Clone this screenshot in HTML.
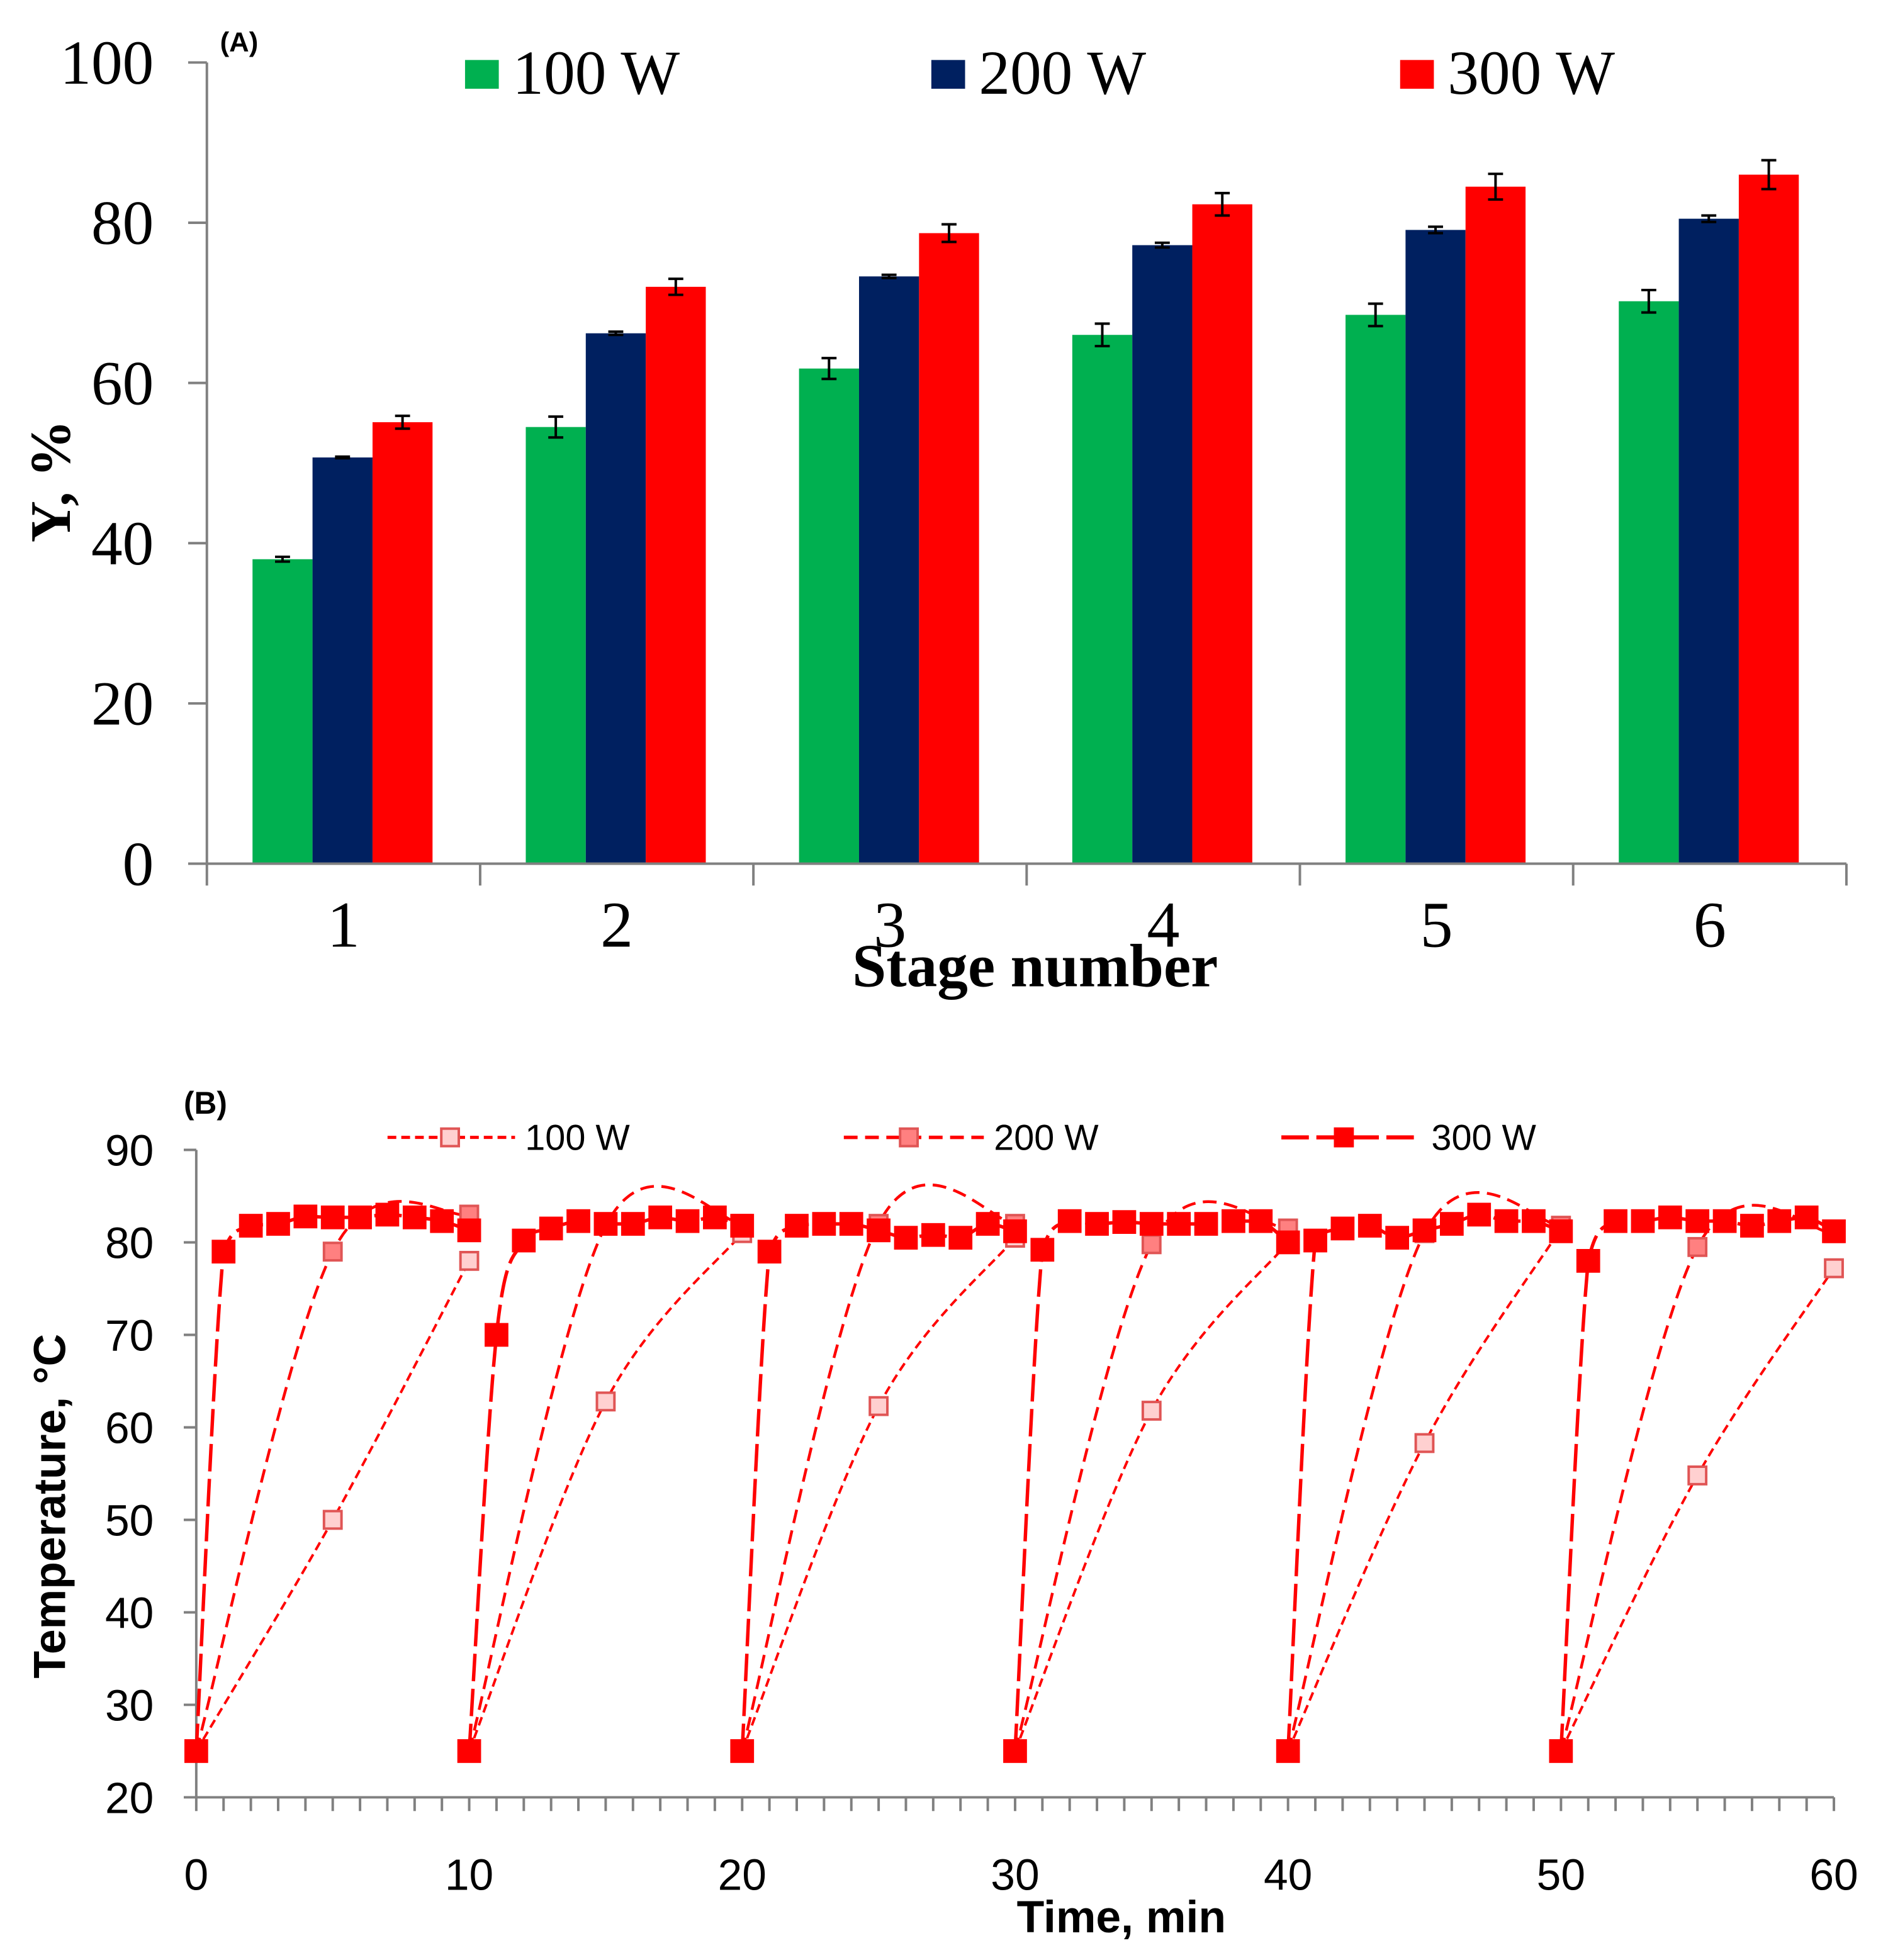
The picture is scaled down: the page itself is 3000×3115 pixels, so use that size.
<!DOCTYPE html>
<html>
<head>
<meta charset="utf-8">
<style>
html,body{margin:0;padding:0;background:#fff;}
svg{display:block;}
</style>
</head>
<body>
<svg id="chart" width="3000" height="3115" viewBox="0 0 3000 3115" xmlns="http://www.w3.org/2000/svg">
<g transform="scale(0.9932)">
<g id="panelA"></g>
<g id="panelB"></g>
</g>
</svg>
<script>
// ---------- Panel A data ----------
const stages = ["1","2","3","4","5","6"];
const seriesNamesA = ["100 W","200 W","300 W"];
const yield100 = [38, 54.5, 61.8, 66, 68.5, 70.2];
const yield200 = [50.7, 66.2, 73.3, 77.2, 79.1, 80.5];
const yield300 = [55.1, 72, 78.7, 82.3, 84.5, 86];
const err100 = [0.3, 1.3, 1.3, 1.4, 1.4, 1.4];
const err200 = [0.1, 0.2, 0.2, 0.3, 0.4, 0.4];
const err300 = [0.8, 1.0, 1.1, 1.4, 1.6, 1.8];
const yTicksA = [0, 20, 40, 60, 80, 100];

// ---------- Panel B data ----------
const xTicksB = [0, 10, 20, 30, 40, 50, 60];
const yTicksB = [20, 30, 40, 50, 60, 70, 80, 90];
const seriesNamesB = ["100 W","200 W","300 W"];
const time100 = [[0,5,10],[10,15,20],[20,25,30],[30,35,40],[40,45,50],[50,55,60]];
const temp100 = [[25,50,78],[25,62.8,81],[25,62.3,80.5],[25,61.8,80],[25,58.3,81.5],[25,54.8,77.2]];
const time200 = [[0,5,10],[10,15,20],[20,25,30],[30,35,40],[40,45,50],[50,55,60]];
const temp200 = [[25,79,83],[25,81.8,82],[25,82,82],[25,79.8,81.5],[25,81,81.8],[25,79.5,81]];
const time300 = [
 [0,1,2,3,4,5,6,7,8,9,10],
 [10,11,12,13,14,15,16,17,18,19,20],
 [20,21,22,23,24,25,26,27,28,29,30],
 [30,31,32,33,34,35,36,37,38,39,40],
 [40,41,42,43,44,45,46,47,48,49,50],
 [50,51,52,53,54,55,56,57,58,59,60]];
const temp300 = [
 [25,79,81.8,82,82.8,82.7,82.7,83,82.7,82.3,81.3],
 [25,70,80.2,81.5,82.3,82,82,82.7,82.3,82.7,81.8],
 [25,79,81.8,82,82,81.3,80.5,80.8,80.5,82,81.2],
 [25,79.2,82.3,82,82.2,82,82,82,82.3,82.3,80],
 [25,80.2,81.5,81.8,80.5,81.3,82,83,82.3,82.3,81.2],
 [25,78,82.3,82.3,82.7,82.3,82.3,81.8,82.3,82.7,81.2]];

const NS = "http://www.w3.org/2000/svg";
function mk(tag, attrs, parent){
  const e = document.createElementNS(NS, tag);
  for (const k in attrs) e.setAttribute(k, attrs[k]);
  parent.appendChild(e);
  return e;
}

// ================= Panel A =================
const A = document.getElementById('panelA');
const axL = 331, axR = 2954, y0A = 1382, y100A = 100;
const yA = v => y0A - (v/100)*(y0A - y100A);
const catW = (axR - axL)/stages.length;
const barW = 96, groupOff = 73;
const colorsA = ["#00b050","#002060","#ff0000"];
const valsA = [yield100, yield200, yield300];
const errsA = [err100, err200, err300];

for (let s=0; s<3; s++){
  for (let i=0; i<stages.length; i++){
    const x = axL + i*catW + groupOff + s*barW;
    const r = mk('rect', {x:x, y:yA(valsA[s][i]), width:barW, height:y0A - yA(valsA[s][i]), fill:colorsA[s]}, A);
    
    
  }
}
for (let s=0; s<3; s++){
  for (let i=0; i<stages.length; i++){
    const cx = axL + i*catW + groupOff + s*barW + barW/2;
    const v = valsA[s][i], e = errsA[s][i];
    const g = mk('g', {stroke:'#000','stroke-width':4}, A);
    
    
    mk('line', {x1:cx, x2:cx, y1:yA(v+e), y2:yA(v-e)}, g);
    mk('line', {x1:cx-12, x2:cx+12, y1:yA(v+e), y2:yA(v+e)}, g);
    mk('line', {x1:cx-12, x2:cx+12, y1:yA(v-e), y2:yA(v-e)}, g);
  }
}
const axA = mk('g', {stroke:'#808080','stroke-width':4, fill:'none'}, A);


mk('line', {x1:axL, x2:axL, y1:y100A, y2:y0A}, axA);
mk('line', {x1:axL, x2:axR, y1:y0A, y2:y0A}, axA);
yTicksA.forEach(v => { mk('line', {x1:axL-30, x2:axL, y1:yA(v), y2:yA(v)}, axA); });
for (let i=0;i<=stages.length;i++){ const x=axL+i*catW; mk('line',{x1:x,x2:x,y1:y0A,y2:y0A+35},axA); }
yTicksA.forEach(v => {
  const t = mk('text', {x:246, y:yA(v)+34, 'text-anchor':'end', 'font-family':'Liberation Serif, serif', 'font-size':100, fill:'#000'}, A);
  t.textContent = v;
  
  
});
stages.forEach((s,i) => {
  const t = mk('text', {x:axL + i*catW + catW/2, y:1515, 'text-anchor':'middle', 'font-family':'Liberation Serif, serif', 'font-size':105, fill:'#000'}, A);
  t.textContent = s;
  
  
});
</script>
<script>
(function(){
const A = document.getElementById('panelA');
function mk(tag, attrs, parent){const e=document.createElementNS("http://www.w3.org/2000/svg",tag);for(const k in attrs)e.setAttribute(k,attrs[k]);parent.appendChild(e);return e;}
let t = mk('text',{x:1656,y:1578,'text-anchor':'middle','font-family':'Liberation Serif, serif','font-weight':'bold','font-size':98,fill:'#000'},A);
t.textContent='Stage number';


t = mk('text',{x:0,y:0,transform:'translate(112,770) rotate(-90)','text-anchor':'middle','font-family':'Liberation Serif, serif','font-weight':'bold','font-size':92,fill:'#000'},A);
t.textContent='Y, %';


t = mk('text',{x:352,y:82,'font-family':'Liberation Sans, sans-serif','font-weight':'bold','font-size':44,fill:'#000'},A);
t.textContent='(A)';


const leg = [[744,'#00b050','100 W'],[1490,'#002060','200 W'],[2240,'#ff0000','300 W']];
leg.forEach(l=>{
  const g = mk('g',{},A);
  
  
  mk('rect',{x:l[0],y:96,width:54,height:46,fill:l[1]},g);
  const tt = mk('text',{x:l[0]+76,y:150,'font-family':'Liberation Serif, serif','font-size':100,fill:'#000'},g);
  tt.textContent=l[2];
});
})();
</script>
<script>
(function(){
const B = document.getElementById('panelB');
function mk(tag, attrs, parent){const e=document.createElementNS("http://www.w3.org/2000/svg",tag);for(const k in attrs)e.setAttribute(k,attrs[k]);parent.appendChild(e);return e;}
const bx0 = 314, bx1 = 2934, by20 = 2876, by90 = 1840;
const xB = t => bx0 + (t/60)*(bx1-bx0);
const yB = v => by20 - ((v-20)/70)*(by20-by90);

function smooth(pts, clamp){
  if (pts.length<2) return '';
  let d = 'M'+pts[0][0]+','+pts[0][1];
  const cl=(y,a,b)=>Math.max(Math.min(a,b),Math.min(Math.max(a,b),y));
  for (let i=0;i<pts.length-1;i++){
    const p0=pts[i-1]||pts[i], p1=pts[i], p2=pts[i+1], p3=pts[i+2]||pts[i+1];
    const k=1/6;
    let c1=[p1[0]+(p2[0]-p0[0])*k, p1[1]+(p2[1]-p0[1])*k];
    let c2=[p2[0]-(p3[0]-p1[0])*k, p2[1]-(p3[1]-p1[1])*k];
    if (clamp){ c1[1]=cl(c1[1],p1[1],p2[1]); c2[1]=cl(c2[1],p1[1],p2[1]); }
    d+=' C'+c1[0]+','+c1[1]+' '+c2[0]+','+c2[1]+' '+p2[0]+','+p2[1];
  }
  return d;
}
const ax = mk('g',{stroke:'#808080','stroke-width':4,fill:'none'},B);


mk('line',{x1:bx0,x2:bx0,y1:by90,y2:by20},ax);
mk('line',{x1:bx0,x2:bx1,y1:by20,y2:by20},ax);
yTicksB.forEach(v=>mk('line',{x1:bx0-20,x2:bx0,y1:yB(v),y2:yB(v)},ax));
for (let m=0;m<=60;m++) mk('line',{x1:xB(m),x2:xB(m),y1:by20,y2:by20+22},ax);
yTicksB.forEach(v=>{
  const t=mk('text',{x:246,y:yB(v)+25,'text-anchor':'end','font-family':'Liberation Sans, sans-serif','font-size':70,fill:'#000'},B);
  t.textContent=v;
  
  
});
xTicksB.forEach(v=>{
  const t=mk('text',{x:xB(v),y:3024,'text-anchor':'middle','font-family':'Liberation Sans, sans-serif','font-size':70,fill:'#000'},B);
  t.textContent=v;
  
  
});
let t=mk('text',{x:1794,y:3092,'text-anchor':'middle','font-family':'Liberation Sans, sans-serif','font-weight':'bold','font-size':72,fill:'#000'},B);
t.textContent='Time, min';


t=mk('text',{x:0,y:0,transform:'translate(104,2410) rotate(-90)','text-anchor':'middle','font-family':'Liberation Sans, sans-serif','font-weight':'bold','font-size':72,fill:'#000'},B);
t.textContent='Temperature, °C';


t=mk('text',{x:294,y:1782,'font-family':'Liberation Sans, sans-serif','font-weight':'bold','font-size':50,fill:'#000'},B);
t.textContent='(B)';



const styles = [
  {dash:'14 8', w:4, fill:'#ffd0d0', stroke:'#e05555', size:28, clamp:false},
  {dash:'22 12', w:4.5, fill:'#ff8080', stroke:'#e05555', size:28, clamp:false},
  {dash:'44 12', w:5.5, fill:'#ff0000', stroke:'#ff0000', size:34, clamp:true}
];
const times=[time100,time200,time300], temps=[temp100,temp200,temp300];
for (let s=0;s<3;s++){
  const st=styles[s];
  const g=mk('g',{},B);
  
  
  for (let c=0;c<times[s].length;c++){
    const pts=times[s][c].map((tm,i)=>[xB(tm),yB(temps[s][c][i])]);
    const p=mk('path',{d:smooth(pts,st.clamp),fill:'none',stroke:'#ff0000','stroke-width':st.w,'stroke-dasharray':st.dash},g);
    
    
  }
}
for (let s=0;s<3;s++){
  const st=styles[s];
  const g=mk('g',{},B);
  
  
  for (let c=0;c<times[s].length;c++){
    times[s][c].forEach((tm,i)=>{
      const r=mk('rect',{x:xB(tm)-st.size/2,y:yB(temps[s][c][i])-st.size/2,width:st.size,height:st.size,fill:st.fill,stroke:st.stroke,'stroke-width':4},g);
      
      
    });
  }
}
const legX=[[620,824,720],[1350,1574,1454],[2050,2274,2150]];
for (let s=0;s<3;s++){
  const st=styles[s];
  const g=mk('g',{},B);
  
  
  mk('line',{x1:legX[s][0],x2:legX[s][1],y1:1820,y2:1820,stroke:'#ff0000','stroke-width':st.w+1,'stroke-dasharray':st.dash},g);
  mk('rect',{x:legX[s][2]-14,y:1806,width:28,height:28,fill:st.fill,stroke:st.stroke,'stroke-width':4},g);
  const tt=mk('text',{x:legX[s][1]+16,y:1840,'font-family':'Liberation Sans, sans-serif','font-size':58,fill:'#000'},g);
  tt.textContent=seriesNamesB[s];
}
})();
</script>
</body>
</html>
